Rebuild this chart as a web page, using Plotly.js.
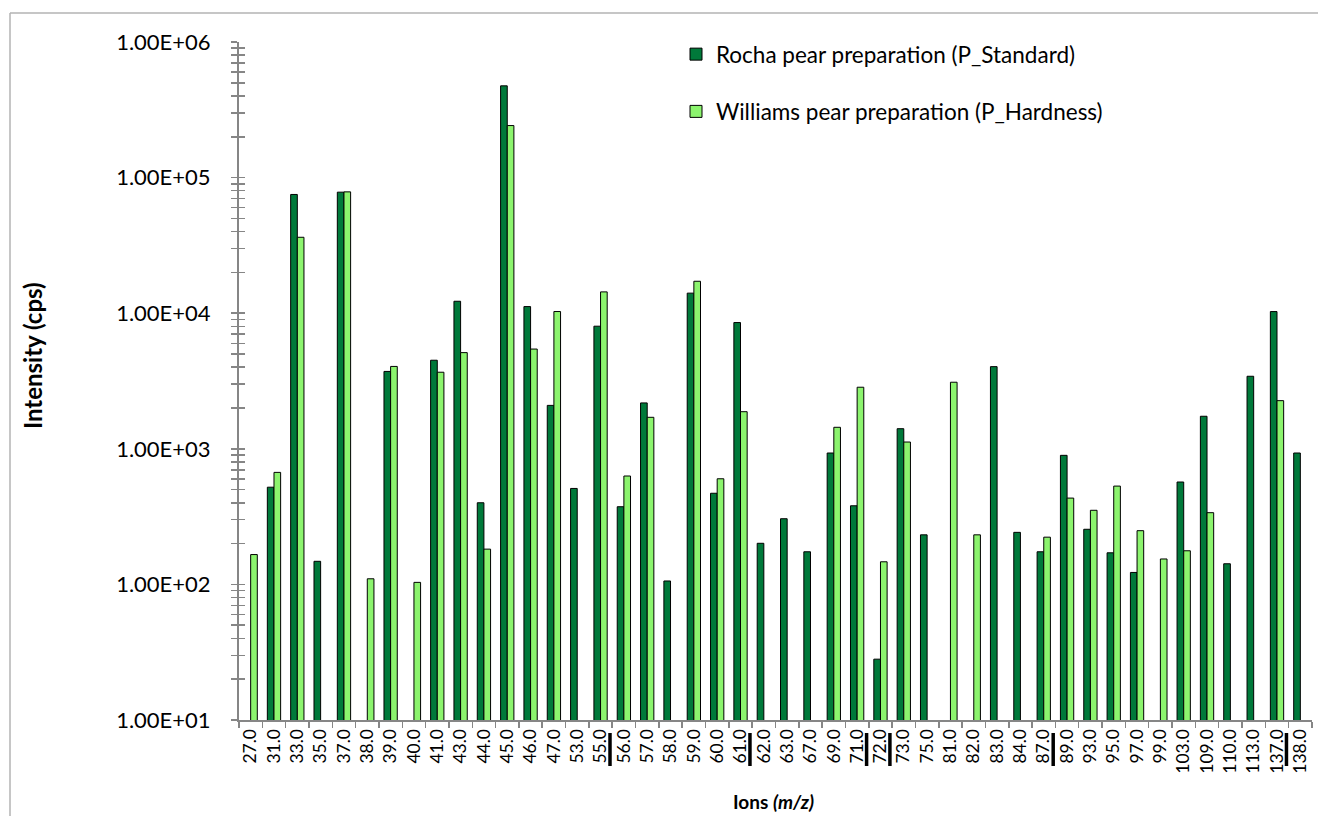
<!DOCTYPE html>
<html>
<head>
<meta charset="utf-8">
<script src="https://cdn.plot.ly/plotly-3.0.1.min.js"></script>
<style>
  html, body { margin: 0; padding: 0; background: #ffffff; }
  #chart { width: 1318px; height: 816px; }
</style>
</head>
<body>
<div id="chart"></div>
<script>
// ---- Data ----
const ions = ["27.0","31.0","33.0","35.0","37.0","38.0","39.0","40.0","41.0","43.0","44.0","45.0","46.0","47.0","53.0","55.0","56.0","57.0","58.0","59.0","60.0","61.0","62.0","63.0","67.0","69.0","71.0","72.0","73.0","75.0","81.0","82.0","83.0","84.0","87.0","89.0","93.0","95.0","97.0","99.0","103.0","109.0","110.0","113.0","137.0","138.0"];

const rochaStandard = [null,521,75100,148,78100,null,3720,null,4500,12250,400,475000,11190,2090,510,8020,374,2180,106,14060,470,8530,201,305,174,931,380,28.1,1407,232,null,null,4036,242,174,895,255,171,122.5,null,569,1738,142,3428,10280,931];

const williamsHardness = [166,670,36300,null,78500,110,4050,103.5,3670,5120,182,242000,5440,10290,null,14360,630,1707,null,17200,601,1878,null,null,null,1441,2845,146.8,1122,null,3097,232,null,null,223,433,352,531,249,154,177,338,null,null,2265,null];

const seriesNames = ["Rocha pear preparation (P_Standard)", "Williams pear preparation (P_Hardness)"];

const yTickVals = [10, 100, 1000, 10000, 100000, 1000000];
const yTickText = ["1.00E+01","1.00E+02","1.00E+03","1.00E+04","1.00E+05","1.00E+06"];

const xTitle = "<b>Ions <i>(m/z)</i></b>";
const yTitle = "<b>Intensity (cps)</b>";

// category boundaries carrying the small black marks seen under the axis
const markBoundaries = [16, 22, 27, 28, 35, 45];

// ---- Chart ----
const FONT = "Lato, 'Open Sans', sans-serif";
const darkGreen = "#00793A";
const lightGreen = "#8CF46E";

const traces = [
  {
    type: "bar", name: seriesNames[0], x: ions, y: rochaStandard,
    marker: { color: darkGreen, line: { color: "#000000", width: 1 } },
    legendgroup: "a", hoverinfo: "x+y"
  },
  {
    type: "bar", name: seriesNames[1], x: ions, y: williamsHardness,
    marker: { color: lightGreen, line: { color: "#000000", width: 1 } },
    legendgroup: "b", hoverinfo: "x+y"
  },
  {
    type: "scatter", x: [], y: [], yaxis: "y2", showlegend: false, hoverinfo: "skip"
  }
];

const L = 239, R = 6, T = 42, B = 96;
const W = 1318, H = 816;
const pw = W - L - R, ph = H - T - B;
const px2x = p => (p - L) / pw;
const py2y = p => (H - B - p) / ph;

const shapes = [
  // outer chart frame (left and top edges visible)
  { type: "line", xref: "paper", yref: "paper", x0: px2x(10), x1: px2x(10), y0: py2y(13), y1: py2y(830),
    line: { color: "#b3b3b3", width: 1.5 } },
  { type: "line", xref: "paper", yref: "paper", x0: px2x(10), x1: px2x(1330), y0: py2y(13), y1: py2y(13),
    line: { color: "#b3b3b3", width: 1.5 } }
];
markBoundaries.forEach(b => {
  shapes.push({ type: "rect", xref: "x", yref: "paper",
    x0: b - 0.5 - 0.17, x1: b - 0.5 - 0.02, y0: py2y(766), y1: py2y(733),
    fillcolor: "#000000", line: { width: 0 } });
});

const annotations = [
  { xref: "paper", yref: "paper", x: px2x(32), y: py2y(356), xanchor: "center", yanchor: "middle",
    text: yTitle, textangle: -90, showarrow: false, font: { family: FONT, size: 24, color: "#000000" } },
  { xref: "paper", yref: "paper", x: px2x(773), y: py2y(801), xanchor: "center", yanchor: "middle",
    text: xTitle, showarrow: false, font: { family: FONT, size: 19, color: "#000000" } }
];

const yAxisCommon = {
  type: "log", range: [1, 6], fixedrange: true,
  showgrid: false, zeroline: false
};

const layout = {
  width: W, height: H,
  margin: { l: L, r: R, t: T, b: B, pad: 0 },
  paper_bgcolor: "#ffffff", plot_bgcolor: "#ffffff",
  font: { family: FONT, color: "#000000" },
  barmode: "group", bargap: 0.43, bargroupgap: 0,
  showlegend: true,
  legend: {
    x: px2x(676), y: py2y(33), xanchor: "left", yanchor: "top",
    font: { family: FONT, size: 22.5, color: "#000000" },
    tracegroupgap: 25, bgcolor: "rgba(0,0,0,0)", traceorder: "grouped"
  },
  xaxis: {
    type: "category", categoryarray: ions, categoryorder: "array",
    showline: true, linecolor: "#868686", linewidth: 2,
    ticks: "outside", ticklen: 6, tickcolor: "#868686", tickwidth: 1.5,
    tickson: "boundaries", tickangle: -90,
    tickfont: { family: FONT, size: 17.5, color: "#000000" },
    showgrid: false, zeroline: false, fixedrange: true
  },
  yaxis: Object.assign({}, yAxisCommon, {
    showline: true, linecolor: "#868686", linewidth: 2,
    tickmode: "array", tickvals: yTickVals, ticktext: yTickText,
    ticks: "outside", ticklen: 6, tickcolor: "#868686", tickwidth: 1.5,
    tickfont: { family: FONT, size: 22, color: "#000000" },
    ticklabelstandoff: 16,
    minor: { ticks: "outside", ticklen: 6, tickcolor: "#868686", tickwidth: 1.5, dtick: "D1", showgrid: false }
  }),
  yaxis2: Object.assign({}, yAxisCommon, {
    overlaying: "y", side: "left", anchor: "x",
    showline: false, showticklabels: false,
    tickmode: "array", tickvals: yTickVals,
    ticks: "inside", ticklen: 6, tickcolor: "#868686", tickwidth: 1.5,
    minor: { ticks: "inside", ticklen: 6, tickcolor: "#868686", tickwidth: 1.5, dtick: "D1", showgrid: false }
  }),
  shapes: shapes,
  annotations: annotations
};

Plotly.newPlot("chart", traces, layout, { staticPlot: true, displayModeBar: false });
</script>
</body>
</html>
